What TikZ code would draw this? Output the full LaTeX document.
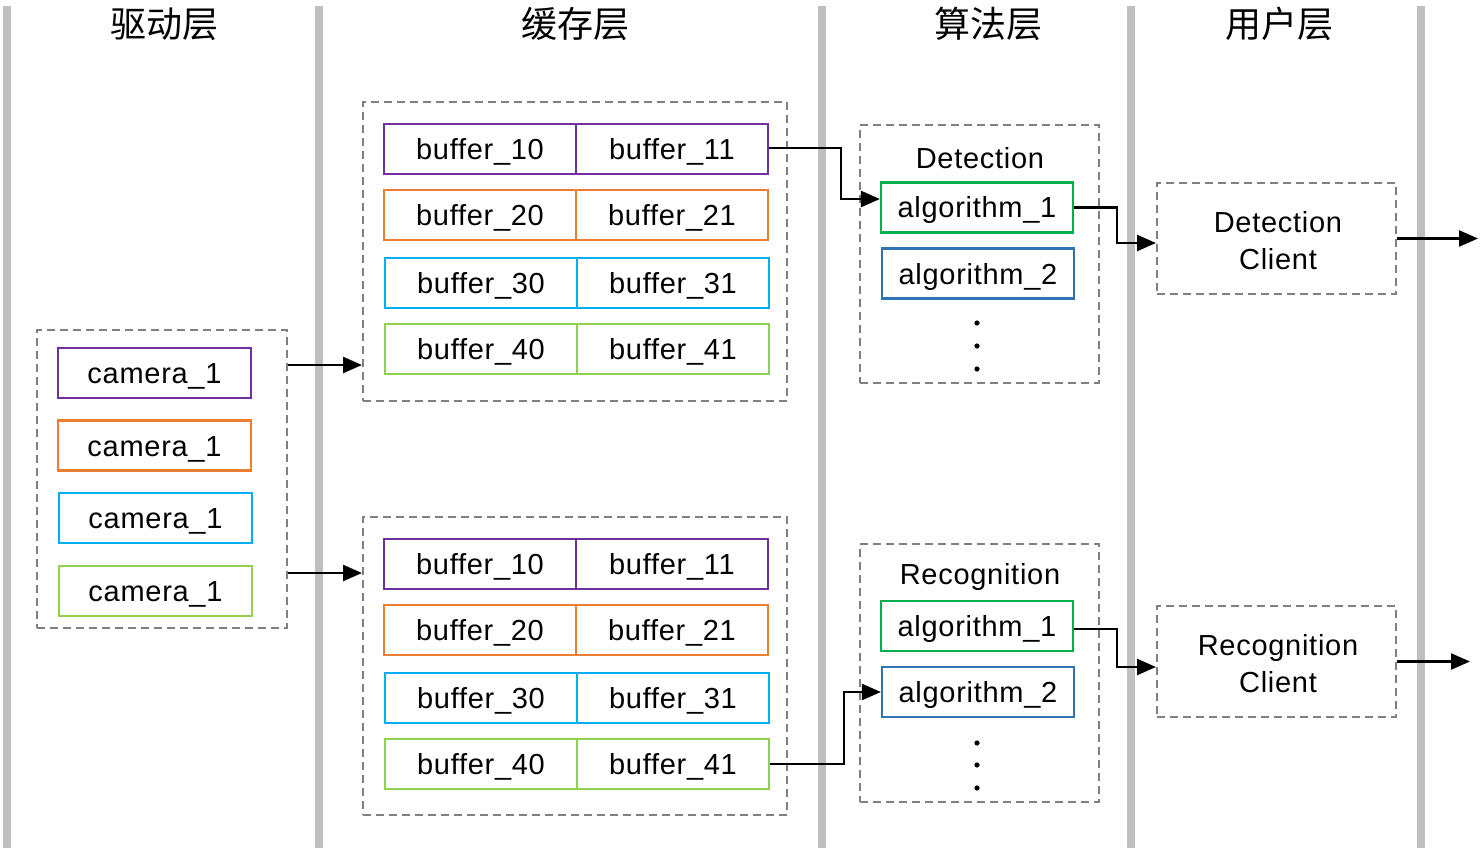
\documentclass[tikz,border=0pt]{standalone}
\usepackage{fontspec}
\setmainfont{Liberation Sans}[LetterSpace=2.5]
\newfontfamily\cjk{Noto Sans CJK SC}
\usetikzlibrary{arrows.meta}
\definecolor{cpurple}{HTML}{7030A0}
\definecolor{corange}{HTML}{ED7D31}
\definecolor{cblue}{HTML}{00B0F0}
\definecolor{cgreen}{HTML}{92D050}
\definecolor{agreen}{HTML}{00B050}
\definecolor{ablue}{HTML}{2E75B6}
\definecolor{lanegray}{HTML}{BFBFBF}
\definecolor{dashgray}{HTML}{808080}
\begin{document}
\begin{tikzpicture}[x=1pt,y=-1pt,
  cell/.style={draw=#1, line width=2.2pt, minimum width=192pt, minimum height=50pt, inner sep=0pt, text height=21pt, text depth=0pt, font=\fontsize{29}{34}\selectfont},
  group/.style={draw=dashgray, dash pattern=on 8pt off 5pt, line width=2pt, inner sep=0pt},
  lane/.style={draw=lanegray, line width=8pt},
  conn/.style={line width=2.4pt, -{Triangle[length=19pt,width=16pt]}},
  header/.style={font=\cjk\fontsize{36}{40}\selectfont},
  label/.style={font=\fontsize{29}{37}\selectfont, align=center}
]
\useasboundingbox (0,0) rectangle (1484,848);
% lanes
\foreach \x in {7,318.5,822,1131,1421} \draw[lane] (\x,6) -- (\x,848);
% headers
\node[header] (h1) at (164,24) {驱动层};
\node[header] (h2) at (575,24) {缓存层};
\node[header] (h3) at (988,24) {算法层};
\node[header] (h4) at (1279,24) {用户层};
% camera group
\node[group, minimum width=250pt, minimum height=298pt] (camgrp) at (162,479) {};
\node[cell=cpurple, minimum width=193pt] (cam1) at (154.5,373) {camera\_1};
\node[cell=corange, minimum width=193pt] (cam2) at (154.5,445.5) {camera\_1};
\node[cell=cblue, minimum width=193pt] (cam3) at (155.5,518) {camera\_1};
\node[cell=cgreen, minimum width=193pt] (cam4) at (155.5,591) {camera\_1};
% buffer groups
\node[group, minimum width=424pt, minimum height=299pt] (bufA) at (575,251.5) {};
\node[group, minimum width=424pt, minimum height=298pt] (bufB) at (575,666) {};
\foreach \g/\yy in {a/149,b/564} {
  \node[cell=cpurple] (b10\g) at (480,\yy) {buffer\_10};
  \node[cell=cpurple] (b11\g) at (672,\yy) {buffer\_11};
}
\foreach \g/\yy in {a/215,b/630} {
  \node[cell=corange] (b20\g) at (480,\yy) {buffer\_20};
  \node[cell=corange] (b21\g) at (672,\yy) {buffer\_21};
}
\foreach \g/\yy in {a/283,b/698} {
  \node[cell=cblue] (b30\g) at (481,\yy) {buffer\_30};
  \node[cell=cblue] (b31\g) at (673,\yy) {buffer\_31};
}
\foreach \g/\yy in {a/349,b/764} {
  \node[cell=cgreen] (b40\g) at (481,\yy) {buffer\_40};
  \node[cell=cgreen] (b41\g) at (673,\yy) {buffer\_41};
}
% algorithm groups
\node[group, minimum width=239pt, minimum height=258pt] (algA) at (979.5,254) {};
\node[group, minimum width=239pt, minimum height=258pt] (algB) at (979.5,673) {};
\node[label] (detl) at (980,158) {Detection};
\node[label] (recl) at (980,577) {Recognition};
\node[cell=agreen] (a1a) at (977,207.5) {algorithm\_1};
\node[cell=ablue] (a2a) at (978,273.5) {algorithm\_2};
\node[cell=agreen] (a1b) at (977,626) {algorithm\_1};
\node[cell=ablue] (a2b) at (978,692) {algorithm\_2};
\foreach \yy in {323,346,369,743,765,788} \fill (977,\yy) circle (2.6pt);
% clients
\node[group, minimum width=239pt, minimum height=111pt] (cliA) at (1276.5,238.5) {};
\node[group, minimum width=239pt, minimum height=111pt] (cliB) at (1276.5,661.5) {};
\node[label] (cliAt) at (1278,241) {Detection\\Client};
\node[label] (cliBt) at (1278,664) {Recognition\\Client};
% connectors
\draw[conn] (camgrp.east |- 0,365) -- (bufA.west |- 0,365);
\draw[conn] (camgrp.east |- 0,573) -- (bufB.west |- 0,573);
\draw[conn] ([yshift=1pt]b11a.east) -- ++(72,0) |- ([yshift=8.5pt]a1a.west);
\draw[conn] (a1a.east) -- ++(43,0) |- ([yshift=-4.5pt]cliA.west);
\draw[conn] (cliA.east) -- ++(81,0);
\draw[conn] (b41b.east) -- ++(74,0) |- (a2b.west);
\draw[conn] ([yshift=-3pt]a1b.east) -- ++(43,0) |- ([yshift=-5.5pt]cliB.west);
\draw[conn] (cliB.east) -- ++(73,0);
\end{tikzpicture}
\end{document}
